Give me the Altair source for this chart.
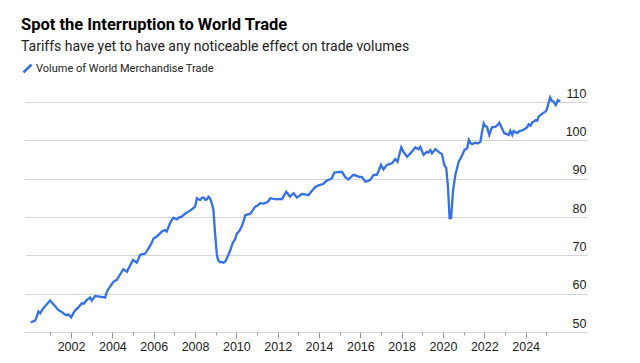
import altair as alt
import pandas as pd

# Decimal years and index values
years = [
    2000.05, 2000.17, 2000.26, 2000.34, 2000.42, 2000.50, 2000.58, 2000.66, 2000.82, 2000.98,
    2001.10, 2001.25, 2001.39, 2001.55, 2001.70, 2001.79, 2001.88, 2002.00, 2002.10, 2002.19,
    2002.35, 2002.52, 2002.62, 2002.75, 2002.92, 2003.00, 2003.16, 2003.28, 2003.40, 2003.52,
    2003.65, 2003.73, 2003.88, 2004.05, 2004.21, 2004.37, 2004.53, 2004.70, 2004.85, 2005.00,
    2005.18, 2005.34, 2005.45, 2005.58, 2005.75, 2005.88, 2005.99, 2006.15, 2006.28, 2006.39,
    2006.55, 2006.63, 2006.79, 2006.95, 2007.12, 2007.24, 2007.36, 2007.50, 2007.68, 2007.85,
    2008.00, 2008.09, 2008.17, 2008.25, 2008.33, 2008.41, 2008.49, 2008.57, 2008.65, 2008.73,
    2008.81, 2008.89, 2008.97, 2009.05, 2009.09, 2009.15, 2009.22, 2009.30, 2009.38, 2009.46,
    2009.54, 2009.62, 2009.70, 2009.78, 2009.86, 2009.94, 2010.02, 2010.15, 2010.27, 2010.35,
    2010.43, 2010.55, 2010.67, 2010.80, 2010.91, 2011.03, 2011.15, 2011.30, 2011.48, 2011.56,
    2011.64, 2011.80, 2011.96, 2012.08, 2012.20, 2012.30, 2012.41, 2012.50, 2012.60, 2012.68,
    2012.77, 2012.85, 2012.93, 2013.05, 2013.17, 2013.33, 2013.49, 2013.65, 2013.82, 2014.00,
    2014.20, 2014.38, 2014.50, 2014.62, 2014.74, 2014.90, 2015.11, 2015.27, 2015.43, 2015.55,
    2015.67, 2015.80, 2015.91, 2016.08, 2016.24, 2016.36, 2016.48, 2016.64, 2016.80, 2016.90,
    2017.00, 2017.12, 2017.29, 2017.40, 2017.53, 2017.69, 2017.80, 2017.90, 2017.98, 2018.09,
    2018.26, 2018.42, 2018.55, 2018.66, 2018.75, 2018.82, 2018.90, 2019.06, 2019.22, 2019.30,
    2019.39, 2019.47, 2019.63, 2019.79, 2019.95, 2020.06, 2020.16, 2020.24, 2020.32, 2020.39,
    2020.49, 2020.60, 2020.76, 2020.93, 2021.04, 2021.17, 2021.25, 2021.33, 2021.41, 2021.57,
    2021.68, 2021.81, 2021.89, 2021.97, 2022.05, 2022.13, 2022.24, 2022.37, 2022.53, 2022.65,
    2022.73, 2022.86, 2022.97, 2023.08, 2023.18, 2023.26, 2023.35, 2023.42, 2023.50, 2023.59,
    2023.70, 2023.83, 2024.00, 2024.08, 2024.15, 2024.24, 2024.32, 2024.40, 2024.48, 2024.56,
    2024.63, 2024.79, 2024.90, 2025.00, 2025.08, 2025.19, 2025.27, 2025.35, 2025.46, 2025.56,
    2025.67,
]
values = [
    52.5, 52.8, 53.0, 54.0, 55.3, 54.9, 55.6, 56.2, 57.2, 58.2,
    57.5, 56.6, 55.7, 55.2, 54.6, 54.4, 54.6, 53.8, 54.8, 55.6,
    56.4, 57.5, 57.4, 58.3, 59.0, 58.2, 59.4, 59.3, 59.2, 59.1,
    59.0, 60.5, 61.8, 63.1, 63.6, 65.0, 66.4, 65.7, 67.3, 68.8,
    68.1, 70.1, 70.3, 70.4, 71.8, 73.0, 74.4, 74.9, 75.6, 76.2,
    76.6, 76.2, 78.4, 79.8, 79.4, 79.9, 80.1, 80.8, 81.4, 82.0,
    82.7, 84.9, 84.6, 84.4, 85.0, 85.1, 84.5, 84.6, 85.3, 84.8,
    83.6, 81.8, 75.7, 70.5, 69.2, 68.5, 68.2, 68.3, 68.1, 68.4,
    69.2, 70.2, 71.2, 72.6, 73.6, 74.2, 75.6, 76.4, 77.7, 79.0,
    80.5, 80.7, 80.8, 81.8, 82.7, 83.0, 83.6, 83.5, 83.8, 84.2,
    84.9, 84.7, 84.6, 84.7, 84.6, 85.5, 86.6, 86.0, 85.3, 85.8,
    86.2, 85.6, 85.1, 85.5, 86.0, 85.9, 85.7, 86.8, 87.8, 88.3,
    88.6, 89.5, 89.8, 90.1, 91.6, 91.7, 91.8, 90.4, 89.8, 90.5,
    91.0, 90.8, 90.5, 90.4, 89.2, 89.4, 89.7, 91.0, 91.0, 92.2,
    93.6, 92.4, 93.6, 93.8, 94.0, 95.1, 94.4, 96.5, 98.2, 97.0,
    95.7, 96.6, 97.4, 98.2, 97.9, 97.7, 98.3, 96.2, 97.0, 96.8,
    97.5, 96.6, 97.7, 97.0, 96.4, 93.6, 92.7, 87.9, 79.7, 79.7,
    87.0, 91.0, 94.4, 96.2, 97.5, 97.9, 100.1, 99.3, 99.0, 99.4,
    99.2, 99.6, 102.2, 104.4, 103.7, 103.5, 101.4, 103.4, 103.5, 104.0,
    104.6, 103.1, 101.8, 101.6, 101.4, 102.5, 101.4, 102.4, 102.2, 101.9,
    102.4, 102.6, 103.1, 103.5, 104.2, 103.8, 104.7, 104.9, 105.3, 105.1,
    106.2, 106.9, 107.3, 107.7, 109.2, 111.2, 110.3, 110.1, 109.2, 110.5,
    110.1,
]
series_name = "Volume of World Merchandise Trade"
x_ticks = list(range(2001, 2026))
y_ticks = [50, 60, 70, 80, 90, 100, 110]

df = pd.DataFrame({"year": years, "value": values, "series": series_name})

FONT = "Liberation Sans"
HEAD = "Roboto"
BLUE = "#3370ec"

chart = (
    alt.Chart(df)
    .mark_line(strokeWidth=2.3, clip=False)
    .encode(
        x=alt.X(
            "year:Q",
            scale=alt.Scale(domain=[1999.77, 2026.97], nice=False, zero=False),
            axis=alt.Axis(
                values=x_ticks,
                labelExpr="datum.value % 2 == 0 ? format(datum.value, 'd') : ''",
                grid=False,
                domain=False,
                tickColor="#9a9a9a",
                tickSize={"expr": "datum.value % 2 == 0 ? 6 : 3"},
                labelPadding=2,
                labelFont=FONT,
                labelFontSize=12.5,
                labelColor="#222222",
                title=None,
            ),
        ),
        y=alt.Y(
            "value:Q",
            scale=alt.Scale(domain=[50, 110], nice=False, zero=False),
            axis=alt.Axis(
                orient="right",
                values=y_ticks,
                grid=True,
                gridColor="#d6d6d6",
                gridWidth=1,
                domain=False,
                ticks=False,
                labelAlign="right",
                labelBaseline="alphabetic",
                labelOffset=-5,
                labelPadding=-1,
                labelFont=FONT,
                labelFontSize=12.5,
                labelColor="#222222",
                title=None,
            ),
        ),
        color=alt.Color(
            "series:N",
            scale=alt.Scale(range=[BLUE]),
            legend=alt.Legend(
                title=None,
                orient="none",
                legendX=-3,
                legendY=-39,
                padding=0,
                symbolType="M-1,1L1,-1",
                symbolSize=64,
                symbolStrokeWidth=2.5,
                labelFont=HEAD,
                labelFontSize=11,
                labelLimit=0,
                labelColor="#222222",
                labelOffset=3,
            ),
        ),
    )
    .properties(
        width=562,
        height=230,
        title=alt.TitleParams(
            text="Spot the Interruption to World Trade",
            subtitle="Tariffs have yet to have any noticeable effect on trade volumes",
            anchor="start",
            frame="group",
            dx=-4,
            font=HEAD,
            fontSize=16.5,
            fontWeight="bold",
            color="#000000",
            subtitleFont=HEAD,
            subtitleFontSize=14,
            subtitleColor="#222222",
            subtitlePadding=7,
            offset=9,
        ),
        autosize=alt.AutoSizeParams(type="none"),
        padding={"left": 17, "top": 94, "right": 38, "bottom": 23},
    )
    .configure_view(stroke=None)
)

chart.save("out.html", embed_options={"renderer": "svg", "actions": False})
